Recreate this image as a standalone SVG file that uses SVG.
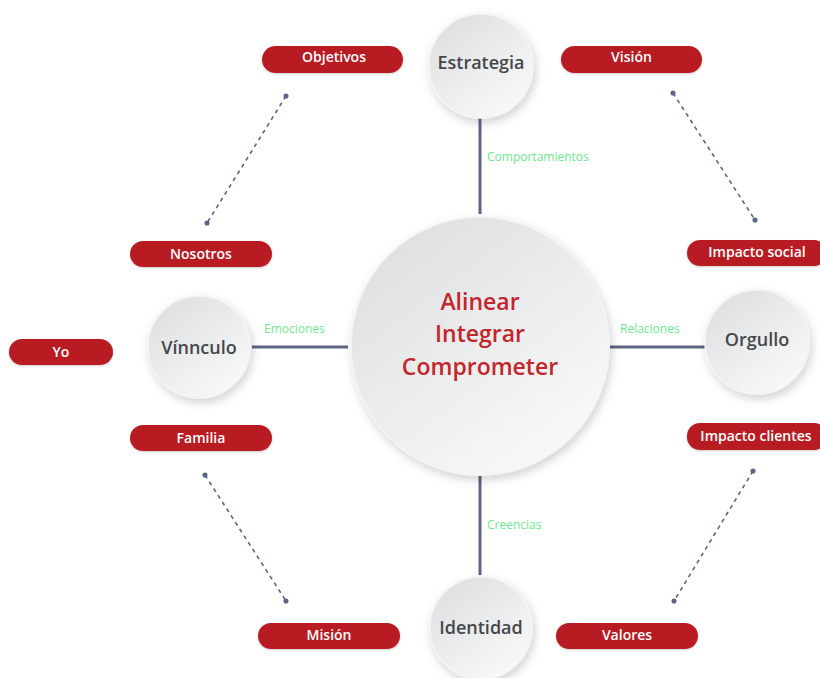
<svg xmlns="http://www.w3.org/2000/svg" width="820" height="678" viewBox="0 0 820 678">
<defs>
<linearGradient id="cg" x1="0.2" y1="0.1" x2="0.8" y2="0.9">
<stop offset="0" stop-color="#dfe1e3"/>
<stop offset="1" stop-color="#f8f8f8"/>
</linearGradient>
<filter id="sh" x="-30%" y="-30%" width="160%" height="160%">
<feDropShadow dx="2" dy="4" stdDeviation="5" flood-color="#000" flood-opacity="0.18"/>
</filter>
<filter id="psh" x="-10%" y="-40%" width="120%" height="180%">
<feDropShadow dx="0" dy="1" stdDeviation="1" flood-color="#000" flood-opacity="0.2"/>
</filter>
<marker id="dot" viewBox="0 0 10 10" refX="5" refY="5" markerWidth="3.2" markerHeight="3.2" markerUnits="strokeWidth">
<circle cx="5" cy="5" r="5" fill="#5c6584"/>
</marker>
</defs>
<style>
.pill{fill:#b81c22;filter:url(#psh)}
.pt{font-family:"Open Sans","Liberation Sans",sans-serif;font-weight:600;font-size:14px;fill:#fff;text-anchor:middle}
.circ{fill:url(#cg);stroke:#f4f4f4;stroke-width:1.5;filter:url(#sh)}
.ct{font-family:"Open Sans","Liberation Sans",sans-serif;font-weight:600;font-size:18px;fill:#45474b;text-anchor:middle}
.mt{font-family:"Open Sans","Liberation Sans",sans-serif;font-weight:600;font-size:23px;fill:#c3262b;text-anchor:middle}
.conn{stroke:#5c6584;stroke-width:3;fill:none}
.dash{stroke:#5c6584;stroke-width:1.6;stroke-dasharray:4 4;fill:none;marker-start:url(#dot);marker-end:url(#dot)}
.lbl{font-family:"Open Sans","Liberation Sans",sans-serif;font-size:12px;fill:#6ee68f}
</style>
<rect width="820" height="678" fill="#fff"/>
<g id="connectors">
<line class="conn" x1="480" y1="118" x2="480" y2="214"/>
<line class="conn" x1="480" y1="476" x2="480" y2="575"/>
<line class="conn" x1="252" y1="347" x2="348" y2="347"/>
<line class="conn" x1="610" y1="347" x2="705" y2="347"/>
<line class="dash" x1="286" y1="96" x2="207" y2="223"/>
<line class="dash" x1="673" y1="93" x2="755" y2="220"/>
<line class="dash" x1="205" y1="475" x2="286" y2="601"/>
<line class="dash" x1="753" y1="471" x2="674" y2="601"/>
<text class="lbl" x="487" y="161">Comportamientos</text>
<text class="lbl" x="264" y="333">Emociones</text>
<text class="lbl" x="620" y="333">Relaciones</text>
<text class="lbl" x="487" y="529">Creencias</text>
</g>
<g id="center">
<circle class="circ" cx="480" cy="346" r="129"/>
<text class="mt" x="480" y="310">Alinear</text>
<text class="mt" x="480" y="342">Integrar</text>
<text class="mt" x="480" y="375">Comprometer</text>
</g>
<g id="estrategia">
<circle class="circ" cx="481" cy="66" r="52"/>
<text class="ct" x="481" y="69">Estrategia</text>
</g>
<g id="vinnculo">
<circle class="circ" cx="199" cy="347" r="51"/>
<text class="ct" x="199" y="354">Vínnculo</text>
</g>
<g id="orgullo">
<circle class="circ" cx="757" cy="342" r="52"/>
<text class="ct" x="757" y="346">Orgullo</text>
</g>
<g id="identidad">
<circle class="circ" cx="481" cy="628" r="51"/>
<text class="ct" x="481" y="634">Identidad</text>
</g>
<g id="objetivos">
<rect class="pill" x="262" y="46" width="141" height="27" rx="13.5"/>
<text class="pt" x="334" y="62">Objetivos</text>
</g>
<g id="vision">
<rect class="pill" x="561" y="46" width="141" height="27" rx="13.5"/>
<text class="pt" x="631.5" y="62">Visión</text>
</g>
<g id="nosotros">
<rect class="pill" x="130" y="241" width="142" height="26" rx="13"/>
<text class="pt" x="201" y="259">Nosotros</text>
</g>
<g id="yo">
<rect class="pill" x="9" y="339" width="104" height="26" rx="13"/>
<text class="pt" x="61" y="357">Yo</text>
</g>
<g id="familia">
<rect class="pill" x="130" y="425" width="142" height="26" rx="13"/>
<text class="pt" x="201" y="443">Familia</text>
</g>
<g id="impacto-social">
<rect class="pill" x="687" y="240" width="140" height="26" rx="13"/>
<text class="pt" x="757" y="257">Impacto social</text>
</g>
<g id="impacto-clientes">
<rect class="pill" x="687" y="423" width="140" height="27" rx="13"/>
<text class="pt" x="756" y="441">Impacto clientes</text>
</g>
<g id="mision">
<rect class="pill" x="258" y="623" width="142" height="26" rx="13"/>
<text class="pt" x="329" y="640">Misión</text>
</g>
<g id="valores">
<rect class="pill" x="556" y="623" width="142" height="26" rx="13"/>
<text class="pt" x="627" y="640">Valores</text>
</g>
</svg>
